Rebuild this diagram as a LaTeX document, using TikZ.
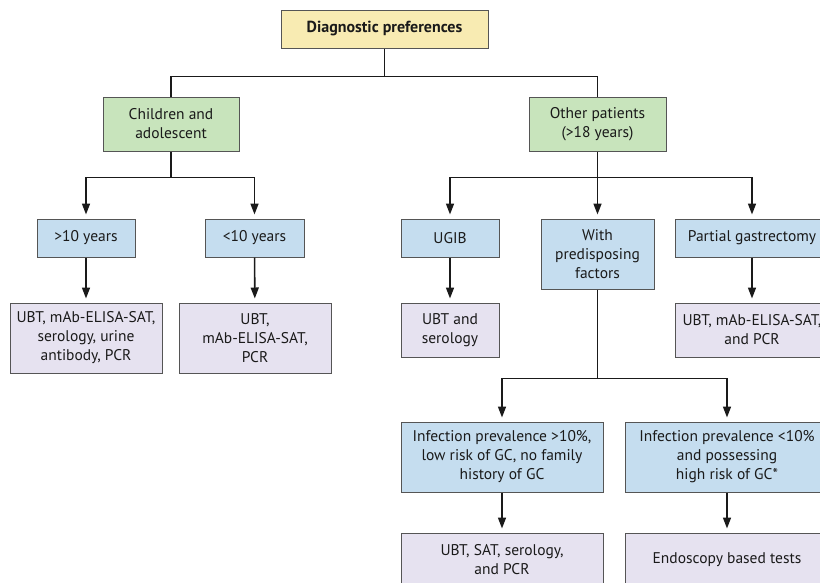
\documentclass[tikz,border=0pt]{standalone}
\usepackage{fontspec}
\setmainfont{PT Sans}
\usepackage{xcolor}
\usetikzlibrary{arrows.meta,positioning}
\definecolor{ink}{HTML}{1A1A1A}
\definecolor{edge}{HTML}{555555}
\definecolor{headfill}{HTML}{F8EBB2}
\definecolor{groupfill}{HTML}{C8E4BC}
\definecolor{casefill}{HTML}{C5DDEF}
\definecolor{testfill}{HTML}{E6E2F0}
\tikzset{
  every picture/.style={line width=1.6pt, text=ink, font=\fontsize{15.5}{19}\selectfont},
  wh/.style 2 args={minimum width=#1pt, minimum height=#2pt},
  box/.style={draw=edge, line width=1pt, align=center, inner sep=1pt},
  head/.style={box, fill=headfill, font=\fontsize{16}{19}\selectfont\bfseries},
  group/.style={box, fill=groupfill},
  case/.style={box, fill=casefill},
  test/.style={box, fill=testfill},
  link/.style={draw=ink},
  flow/.style={-{Triangle[length=11pt, width=8pt]}, draw=ink, shorten >=4pt},
}
\begin{document}
\begin{tikzpicture}[x=1pt, y=-1pt]
\useasboundingbox (0,0) rectangle (820,582);
\node[head, wh={207}{38}] (diag) at (384.5,29) {Diagnostic preferences};
\node[group, wh={136}{54}] (kids) at (171,124) {Children and\\adolescent};
\node[group, wh={137}{54}] (adults) at (597.5,124) {Other patients\\(>18 years)};
\node[case, wh={98}{38}] (over10) at (86,238) {>10 years};
\node[case, wh={99}{38}] (under10) at (254.5,238) {<10 years};
\node[case, wh={98}{38}] (ugib) at (450,238) {UGIB};
\node[case, wh={113}{70}] (predisp) at (597.5,254) {With\\predisposing\\factors};
\node[case, wh={154}{38}] (gastr) at (752,238) {Partial gastrectomy};
\node[test, wh={152}{70}] (over10t) at (86,338) {UBT, mAb-ELISA-SAT,\\serology, urine\\antibody, PCR};
\node[test, wh={152}{70}] (under10t) at (255,338) {UBT,\\mAb-ELISA-SAT,\\PCR};
\node[test, wh={98}{54}] (ugibt) at (450,330) {UBT and\\serology};
\node[test, wh={154}{54}] (gastrt) at (752,330) {UBT, mAb-ELISA-SAT,\\and PCR};
\node[case, wh={202}{70}] (hiprev) at (502,457) {Infection prevalence >10\%,\\low risk of GC, no family\\history of GC};
\node[case, wh={204}{70}] (loprev) at (727,457) {Infection prevalence <10\%\\and possessing\\high risk of GC*};
\node[test, wh={202}{54}] (hiprevt) at (502,560) {UBT, SAT, serology,\\and PCR};
\node[test, wh={204}{54}] (loprevt) at (727,560) {Endoscopy based tests};

\draw[link] (diag.south) -- ++(0,28) coordinate (split0);
\draw[link] (kids.north) |- (split0) -| (adults.north);
\draw[link] (kids.south) -- ++(0,26) coordinate (split1);
\draw[flow] (split1) -| (over10.north);
\draw[flow] (split1) -| (under10.north);
\draw[link] (adults.south) -- ++(0,26) coordinate (split2);
\draw[flow] (split2) -| (ugib.north);
\draw[flow] (split2) -- (predisp.north);
\draw[flow] (split2) -| (gastr.north);
\draw[link] (predisp.south) -- ++(0,89) coordinate (split3);
\draw[flow] (split3) -| (hiprev.north);
\draw[flow] (split3) -| (loprev.north);
\draw[flow] (over10) -- (over10t);
\draw[flow] (under10) -- (under10t);
\draw[flow] (ugib) -- (ugibt);
\draw[flow] (gastr) -- (gastrt);
\draw[flow] (hiprev) -- (hiprevt);
\draw[flow] (loprev) -- (loprevt);
\end{tikzpicture}
\end{document}
